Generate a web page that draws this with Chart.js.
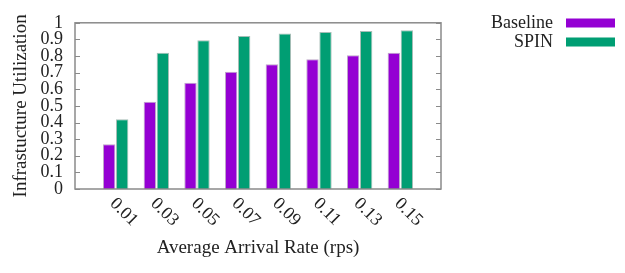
<!DOCTYPE html>
<html>
<head>
<meta charset="utf-8">
<script src="https://cdn.jsdelivr.net/npm/chart.js@4"></script>
<style>
  html, body { margin: 0; padding: 0; background: #fff; }
  #wrap { width: 625px; height: 273px; }
</style>
</head>
<body>
<div id="wrap"><canvas id="chart" width="625" height="273"></canvas></div>
<script>
// data
const categories = ["0.01", "0.03", "0.05", "0.07", "0.09", "0.11", "0.13", "0.15"];
const baseline = [0.27, 0.525, 0.64, 0.705, 0.75, 0.78, 0.805, 0.82];
const spin = [0.42, 0.82, 0.895, 0.92, 0.935, 0.945, 0.95, 0.955];
const yTicks = [0, 0.1, 0.2, 0.3, 0.4, 0.5, 0.6, 0.7, 0.8, 0.9, 1];

const FONT = "'Liberation Serif', 'Times New Roman', serif";
const TEXT = "#222";
const FRAME = "#8a8a8a";

// gnuplot leaves an empty slot at each end of the histogram
const labels = ["", ...categories, ""];
const pad = arr => [null, ...arr, null];

// frame, inward y ticks, rotated x labels and the legend
const gnuplotLook = {
    id: "gnuplotLook",
    afterDraw(chart) {
        const ctx = chart.ctx;
        const a = chart.chartArea;
        const x = chart.scales.x;
        const y = chart.scales.y;
        ctx.save();

        ctx.strokeStyle = FRAME;
        ctx.lineWidth = 1.5;
        ctx.strokeRect(a.left, a.top, a.right - a.left, a.bottom - a.top);

        ctx.lineWidth = 1;
        yTicks.forEach(v => {
            const py = Math.round(y.getPixelForValue(v)) + 0.5;
            ctx.beginPath();
            ctx.moveTo(a.left, py);
            ctx.lineTo(a.left + 5, py);
            ctx.moveTo(a.right, py);
            ctx.lineTo(a.right - 5, py);
            ctx.stroke();
        });

        ctx.fillStyle = TEXT;
        ctx.font = "18px " + FONT;
        ctx.textAlign = "left";
        ctx.textBaseline = "middle";
        categories.forEach((c, i) => {
            const px = x.getPixelForValue(i + 1);
            ctx.save();
            ctx.translate(px - 3, a.bottom + 12);
            ctx.rotate(Math.PI / 4);
            ctx.fillText(c, 0, 0);
            ctx.restore();
        });

        chart.data.datasets.forEach((ds, i) => {
            const ly = 23 + i * 19;
            ctx.textAlign = "right";
            ctx.fillStyle = TEXT;
            ctx.fillText(ds.label, 553, ly);
            ctx.fillStyle = ds.backgroundColor;
            ctx.fillRect(566, ly - 4.5, 49, 9);
        });
        ctx.restore();
    }
};

new Chart(document.getElementById("chart"), {
    type: "bar",
    data: {
        labels: labels,
        datasets: [
            {
                label: "Baseline",
                data: pad(baseline),
                backgroundColor: "#9400d3",
                borderColor: "rgba(70, 0, 100, 0.35)",
                borderWidth: 1,
                categoryPercentage: 0.64,
                barPercentage: 0.95
            },
            {
                label: "SPIN",
                data: pad(spin),
                backgroundColor: "#009e73",
                borderColor: "rgba(0, 70, 50, 0.35)",
                borderWidth: 1,
                categoryPercentage: 0.64,
                barPercentage: 0.95
            }
        ]
    },
    options: {
        responsive: false,
        animation: false,
        layout: { padding: { left: 0, top: 14, right: 184, bottom: 0 } },
        plugins: {
            legend: { display: false },
            tooltip: { enabled: false }
        },
        scales: {
            x: {
                offset: false,
                grid: { display: false },
                border: { display: false },
                ticks: { display: false },
                title: {
                    display: true,
                    text: "Average Arrival Rate (rps)",
                    color: TEXT,
                    font: { family: FONT, size: 19 },
                    padding: { top: 0, bottom: 14 }
                },
                afterFit(scale) { scale.height = 84; }
            },
            y: {
                min: 0,
                max: 1,
                afterBuildTicks(scale) {
                    scale.ticks = yTicks.map(v => ({ value: v }));
                },
                grid: { display: false, drawTicks: false },
                border: { display: false },
                ticks: {
                    color: TEXT,
                    padding: 12,
                    autoSkip: false,
                    font: { family: FONT, size: 18 },
                    callback: v => String(v)
                },
                title: {
                    display: true,
                    text: "Infrastucture Utilization",
                    color: TEXT,
                    font: { family: FONT, size: 19 },
                    padding: { top: 10, bottom: 0 }
                },
                afterFit(scale) { scale.width = 75; }
            }
        }
    },
    plugins: [gnuplotLook]
});
</script>
</body>
</html>
